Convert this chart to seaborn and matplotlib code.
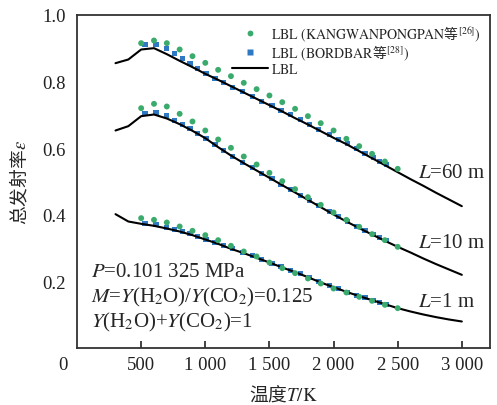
import numpy as np
import pandas as pd
import matplotlib
matplotlib.use("Agg")
import matplotlib.pyplot as plt
from matplotlib.lines import Line2D
import seaborn as sns

# ---------------- data ----------------
T_line = [300, 400, 500, 600, 700, 800, 900, 1000, 1100, 1200, 1300, 1400, 1500, 1600,
          1700, 1800, 1900, 2000, 2100, 2200, 2300, 2400, 2500, 2600, 2700, 2800, 2900, 3000]
line_L60 = [0.855, 0.866, 0.896, 0.900, 0.882, 0.862, 0.843, 0.823, 0.805, 0.786, 0.767, 0.748,
            0.729, 0.710, 0.690, 0.671, 0.651, 0.631, 0.612, 0.591, 0.570, 0.549, 0.528, 0.507,
            0.487, 0.466, 0.446, 0.426]
line_L10 = [0.653, 0.666, 0.696, 0.701, 0.689, 0.672, 0.652, 0.630, 0.603, 0.578, 0.555, 0.533,
            0.511, 0.489, 0.467, 0.445, 0.423, 0.401, 0.380, 0.360, 0.341, 0.322, 0.304, 0.287,
            0.269, 0.252, 0.236, 0.220]
line_L1 = [0.402, 0.380, 0.373, 0.367, 0.359, 0.350, 0.339, 0.326, 0.313, 0.298, 0.285, 0.271,
           0.257, 0.242, 0.228, 0.213, 0.197, 0.183, 0.169, 0.156, 0.144, 0.132, 0.120, 0.110,
           0.101, 0.093, 0.086, 0.080]

T_green = [500, 600, 700, 800, 900, 1000, 1100, 1200, 1300, 1400, 1500, 1600, 1700, 1800,
           1900, 2000, 2100, 2200, 2300, 2400, 2500]
green_L60 = [0.915, 0.923, 0.915, 0.896, 0.876, 0.856, 0.835, 0.816, 0.796, 0.777, 0.758, 0.738,
             0.718, 0.696, 0.675, 0.653, 0.628, 0.606, 0.583, 0.560, 0.538]
green_L10 = [0.720, 0.733, 0.725, 0.703, 0.680, 0.653, 0.626, 0.601, 0.575, 0.551, 0.526, 0.501,
             0.477, 0.453, 0.430, 0.407, 0.385, 0.364, 0.342, 0.324, 0.304]
green_L1 = [0.390, 0.385, 0.377, 0.365, 0.352, 0.339, 0.324, 0.307, 0.290, 0.275, 0.257, 0.240,
            0.225, 0.209, 0.194, 0.179, 0.167, 0.154, 0.142, 0.130, 0.120]

T_blue = [530, 615, 695, 760, 820, 880, 940, 1005, 1075, 1145, 1215, 1290, 1365, 1440, 1520,
          1590, 1665, 1740, 1815, 1885, 1970, 2040, 2110, 2180, 2245, 2310, 2360, 2410]
blue_L60 = [0.910, 0.910, 0.898, 0.883, 0.868, 0.853, 0.839, 0.824, 0.810, 0.797, 0.783, 0.769,
            0.755, 0.741, 0.727, 0.714, 0.700, 0.686, 0.671, 0.657, 0.640, 0.627, 0.613, 0.598,
            0.585, 0.572, 0.561, 0.551]
blue_L10 = [0.705, 0.706, 0.697, 0.684, 0.671, 0.658, 0.644, 0.630, 0.611, 0.592, 0.575, 0.558,
            0.542, 0.525, 0.508, 0.492, 0.476, 0.459, 0.443, 0.428, 0.410, 0.395, 0.380, 0.366,
            0.353, 0.341, 0.332, 0.322]
blue_L1 = [0.375, 0.370, 0.362, 0.356, 0.350, 0.343, 0.335, 0.327, 0.317, 0.308, 0.298, 0.288,
           0.277, 0.266, 0.255, 0.244, 0.234, 0.223, 0.212, 0.201, 0.189, 0.178, 0.168, 0.159,
           0.151, 0.143, 0.137, 0.131]

L_labels = ["60", "10", "1"]
x_ticks = [500, 1000, 1500, 2000, 2500, 3000]
x_ticklabels = ["500", "1 000", "1 500", "2 000", "2 500", "3 000"]
y_ticks = [0.2, 0.4, 0.6, 0.8, 1.0]
y_ticklabels = ["0.2", "0.4", "0.6", "0.8", "1.0"]

legend_labels = [r"$\mathrm{LBL\ (KANGWANPONGPAN}$等$^{[26]}\mathrm{)}$",
                 r"$\mathrm{LBL\ (BORDBAR}$等$^{[28]}\mathrm{)}$",
                 r"$\mathrm{LBL}$"]

# ---------------- style ----------------
sns.set_style("ticks")
plt.rcParams["font.family"] = ["Liberation Serif", "Noto Sans CJK SC"]
plt.rcParams["mathtext.fontset"] = "stix"
CJK = ["Noto Sans CJK SC", "Liberation Serif"]

GREEN = "#3aab6d"
BLUE = "#2f78c4"

fig = plt.figure(figsize=(4.97, 4.06), dpi=100)
ax = fig.add_axes([0.155, 0.140, 0.831, 0.821])

lines = {"60": line_L60, "10": line_L10, "1": line_L1}
greens = {"60": green_L60, "10": green_L10, "1": green_L1}
blues = {"60": blue_L60, "10": blue_L10, "1": blue_L1}

for L in L_labels:
    dfl = pd.DataFrame({"T": T_line, "eps": lines[L]})
    sns.lineplot(data=dfl, x="T", y="eps", color="black", lw=1.5, ax=ax, zorder=3)
    dfb = pd.DataFrame({"T": T_blue, "eps": blues[L]})
    sns.scatterplot(data=dfb, x="T", y="eps", marker="s", s=14, color=BLUE,
                    edgecolor="none", ax=ax, zorder=2)
    dfg = pd.DataFrame({"T": T_green, "eps": greens[L]})
    sns.scatterplot(data=dfg, x="T", y="eps", marker="o", s=18, color=GREEN,
                    edgecolor="none", ax=ax, zorder=4)

ax.set_xlim(0, 3220)
ax.set_ylim(0, 1.0)
ax.set_xticks(x_ticks)
ax.set_xticklabels(x_ticklabels)
ax.set_yticks(y_ticks)
ax.set_yticklabels(y_ticklabels)
ax.tick_params(axis="x", direction="in", length=5, width=1.2, labelsize=13.5, pad=6,
               colors="#222222")
ax.tick_params(axis="y", length=0, labelsize=13.5, pad=8, colors="#222222")
for sp in ax.spines.values():
    sp.set_visible(True)
    sp.set_linewidth(1.3)
    sp.set_color("#333333")

ax.annotate("0", xy=(0, 0), xycoords="data", xytext=(-10.5, -11.5),
            textcoords="offset points", ha="center", va="center", fontsize=13.5,
            color="#222222")

ax.set_xlabel(r"温度$T/\mathrm{K}$", fontsize=13.5, labelpad=7, family=CJK)
ax.set_ylabel(r"总发射率$\varepsilon$", fontsize=13.5, labelpad=8, family=CJK)

fs = 15
ax.text(2655, 0.528, "$L$=60 m", fontsize=fs, ha="left", va="center")
ax.text(2655, 0.318, "$L$=10 m", fontsize=fs, ha="left", va="center")
ax.text(2655, 0.141, "$L$=1 m", fontsize=fs, ha="left", va="center")

ax.text(110, 0.231, "$P$=0.101 325 MPa", fontsize=fs, ha="left", va="center")
ax.text(110, 0.156, "$M$=$Y$(H$_2$O)/$Y$(CO$_2$)=0.125", fontsize=fs, ha="left", va="center")
ax.text(110, 0.081, "$Y$(H$_2$O)+$Y$(CO$_2$)=1", fontsize=fs, ha="left", va="center")

handles = [
    Line2D([], [], ls="none", marker="o", ms=4.2, color=GREEN, mec="none"),
    Line2D([], [], ls="none", marker="s", ms=3.8, color=BLUE, mec="none"),
    Line2D([], [], color="black", lw=1.5),
]
ax.legend(handles, legend_labels, loc="upper left", bbox_to_anchor=(0.375, 0.975),
          frameon=False, prop={"family": CJK, "size": 10}, handlelength=2.6,
          handletextpad=0.25, labelspacing=0.0, borderpad=0, borderaxespad=0)

fig.savefig("out.png", dpi=100)
